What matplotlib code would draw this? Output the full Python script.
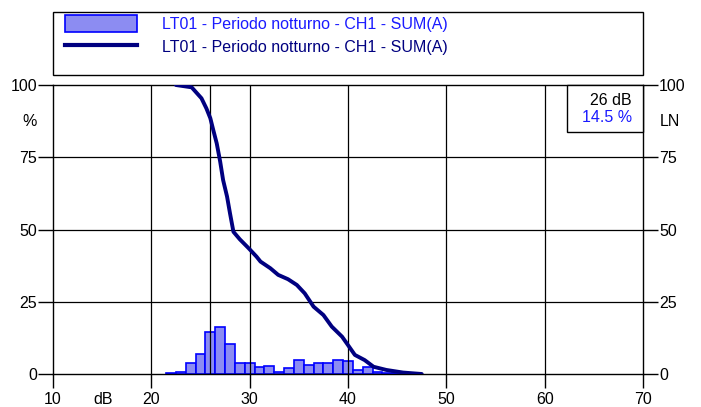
import matplotlib.pyplot as plt
from matplotlib.patches import Rectangle, Patch
from matplotlib.lines import Line2D

plt.rcParams['font.family'] = ['Liberation Sans', 'DejaVu Sans']
plt.rcParams['font.size'] = 11.5

series_label = 'LT01 - Periodo notturno - CH1 - SUM(A)'

# level distribution (% of time per 1 dB class)
levels_db = [22, 23, 24, 25, 26, 27, 28, 29, 30, 31, 32, 33, 34,
             35, 36, 37, 38, 39, 40, 41, 42, 43, 44, 45, 46, 47]
distribution_pct = [0.2, 0.6, 3.7, 6.9, 14.5, 16.3, 10.4, 3.8, 3.8, 2.5, 2.8, 0.7, 2.2,
                    4.7, 3.2, 3.8, 3.8, 4.7, 4.4, 1.3, 2.5, 0.6, 0.4, 0.3, 0.2, 0.1]

# cumulative curve (LN)
curve_db = [22.5, 24.1, 25.1, 25.6, 26.0, 26.3, 26.65, 27.0, 27.3, 27.7, 28.0, 28.35,
            29.0, 29.9, 30.7, 31.1, 32.1, 32.9, 33.9, 34.8, 35.6, 36.5, 37.5, 38.35,
            39.4, 40.0, 40.7, 41.7, 42.6, 43.9, 45.6, 47.5]
curve_pct = [100, 99.2, 95.4, 91.9, 88.5, 84.4, 79.8, 73.5, 67.1, 61.4, 55.6, 49.2,
             46.6, 43.5, 40.6, 38.9, 36.6, 34.3, 32.8, 30.8, 27.9, 23.3, 20.4, 16.4,
             12.9, 10.0, 6.6, 4.8, 2.5, 1.4, 0.5, 0.0]

cursor_db = 26
cursor_pct = 14.5

x_ticks = [10, 20, 30, 40, 50, 60, 70]
y_ticks = [0, 25, 50, 75, 100]

bar_face = '#8c8cf2'
bar_edge = '#0000ff'
curve_color = '#000080'

fig = plt.figure(figsize=(7.01, 4.07), dpi=100)
ax = fig.add_axes([53 / 701, 1 - 374 / 407, 590 / 701, 289 / 407])

ax.bar(levels_db, distribution_pct, width=1.0, facecolor=bar_face,
       edgecolor=bar_edge, linewidth=1.2, zorder=2)

for x in x_ticks[1:-1]:
    ax.axvline(x, color='black', lw=0.9, zorder=3)
for y in y_ticks[1:-1]:
    ax.axhline(y, color='black', lw=0.9, zorder=3)
ax.axvline(cursor_db, color='black', lw=0.9, zorder=3)

ax.plot(curve_db, curve_pct, color=curve_color, lw=2.8,
        solid_joinstyle='round', solid_capstyle='round', zorder=4)

ax.set_xlim(10, 70)
ax.set_ylim(0, 100)
ax.set_xticks(x_ticks)
ax.set_yticks(y_ticks)
ax.tick_params(axis='x', direction='out', length=10, width=1, pad=3)
ax.tick_params(axis='y', direction='out', length=11, width=1, pad=0.5,
               left=True, right=True, labelleft=True, labelright=True)
for sp in ax.spines.values():
    sp.set_color('black')
    sp.set_linewidth(1)

ax.text(-0.039, 0.872, '%', transform=ax.transAxes, ha='center', va='center')
ax.text(1.046, 0.872, 'LN', transform=ax.transAxes, ha='center', va='center')
ax.text(15.1, -0.087, 'dB', transform=ax.get_xaxis_transform(),
        ha='center', va='center')

# cursor read-out box
ax.add_patch(Rectangle((0.871, 0.837), 0.129, 0.163, transform=ax.transAxes,
                       facecolor='white', edgecolor='black', lw=1, zorder=5,
                       clip_on=False))
ax.text(0.981, 0.948, '%d dB' % cursor_db, transform=ax.transAxes,
        ha='right', va='center', zorder=6)
ax.text(0.981, 0.886, '%.1f %%' % cursor_pct, transform=ax.transAxes,
        ha='right', va='center', color='#1a1aff', zorder=6)

# legend frame
fig.patches.append(Rectangle((53 / 701, 1 - 75 / 407), 590 / 701, 63 / 407,
                             transform=fig.transFigure, fill=False,
                             edgecolor='black', lw=1))
handles = [Patch(facecolor=bar_face, edgecolor=bar_edge, lw=1.2),
           Line2D([], [], color=curve_color, lw=3)]
leg = ax.legend(handles, [series_label, series_label], loc='upper left',
                bbox_to_anchor=(65 / 701, 1 - 15 / 407),
                bbox_transform=fig.transFigure, frameon=False,
                borderpad=0, borderaxespad=0, handlelength=4.5,
                handleheight=1.25, handletextpad=1.55, labelspacing=0.4)
leg.get_texts()[0].set_color('#1a1aff')
leg.get_texts()[1].set_color(curve_color)

fig.savefig('out.png', dpi=100)
